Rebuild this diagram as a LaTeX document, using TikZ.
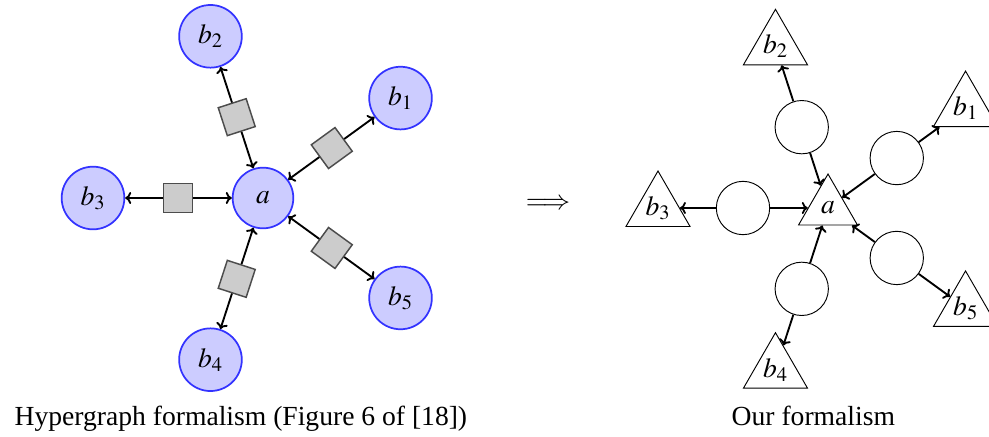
\documentclass[tikz,border=0pt]{standalone}
\usepackage{mathptmx}
\usepackage[no-math]{fontspec}
\setmainfont{Liberation Serif}
\usetikzlibrary{shapes.geometric,calc,arrows.meta}
\begin{document}
\begin{tikzpicture}[x=0.75pt,y=0.75pt,
  every node/.style={font=\fontsize{20.7}{24}\selectfont},
  hnode/.style={circle,draw=blue!80,fill=blue!20,line width=1.3pt,minimum size=47pt,inner sep=0pt},
  hedge/.style={rectangle,draw=black!70,fill=black!20,line width=1.1pt,minimum size=22pt,inner sep=0pt},
  tnode/.style={regular polygon,regular polygon sides=3,draw,line width=0.7pt,minimum size=55.5pt,inner sep=0pt},
  cnode/.style={circle,draw,line width=0.7pt,minimum size=40pt,inner sep=0pt},
  conn/.style={line width=1.4pt,-{To[length=4.5pt,width=9pt]}},
  caption/.style={anchor=base west}
]
\useasboundingbox (0,0) rectangle (989,-436);
% left: hypergraph
\node[hnode,minimum size=45.5pt] (a) at (263,-198) {$a$};
\foreach \i/\ang in {1/36,2/108,3/180,4/252,5/324} {
  \node[hnode] (b\i) at ([shift={(\ang:170)}]a) {$b_{\i}$};
  \node[hedge,rotate=\ang] (s\i) at ($(a)!0.5!(b\i)$) {};
  \draw[conn] (s\i) -- (a);
  \draw[conn] (s\i) -- (b\i);
}
% implication
\node (imp) at (548,-204) {$\Longrightarrow$};
% right: our formalism
\node[tnode,minimum size=51pt] (A) at (828,-208) {$a$};
\foreach \i/\ang in {1/36,2/108,3/180,4/252,5/324} {
  \node[tnode] (B\i) at ([shift={(\ang:170)}]A) {$b_{\i}$};
  \node[cnode] (c\i) at ($(A)!0.5!(B\i)$) {};
  \draw[conn] (c\i) -- (A);
  \draw[conn] (c\i) -- (B\i);
}
% captions
\node[caption] (cap1) at (10,-425) {Hypergraph formalism (Figure 6 of [18])};
\node[caption] (cap2) at (727,-425) {Our formalism};
\end{tikzpicture}
\end{document}
